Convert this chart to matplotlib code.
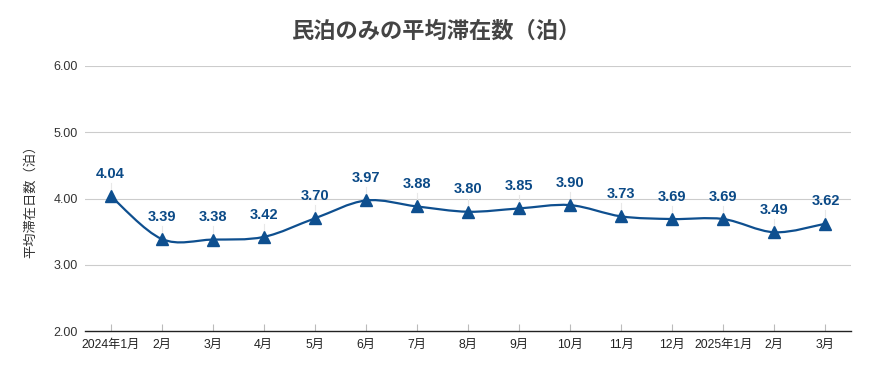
import matplotlib
matplotlib.use("Agg")
import matplotlib.pyplot as plt
from matplotlib.path import Path
from matplotlib.patches import PathPatch
import numpy as np

plt.rcParams['font.family'] = ['Liberation Sans', 'Noto Sans CJK JP', 'DejaVu Sans']

months = ["2024年1月", "2月", "3月", "4月", "5月", "6月", "7月", "8月", "9月",
          "10月", "11月", "12月", "2025年1月", "2月", "3月"]
values = [4.04, 3.39, 3.38, 3.42, 3.70, 3.97, 3.88, 3.80, 3.85, 3.90, 3.73, 3.69, 3.69, 3.49, 3.62]
yticks = [2.00, 3.00, 4.00, 5.00, 6.00]

title = "民泊のみの平均滞在数（泊）"
ylabel = "平均滞在日数（泊）"

line_color = "#0e4f8f"
label_color = "#0b4a87"

fig = plt.figure(figsize=(8.7, 3.71), dpi=100)
ax = fig.add_axes([85/870, 1 - 331/371, (851 - 85)/870, (331 - 66)/371])

x = np.arange(len(values))
y = np.array(values)

# smooth curve through points (Catmull-Rom -> cubic Bezier)
verts = [(x[0], y[0])]
codes = [Path.MOVETO]
n = len(x)
for i in range(n - 1):
    p0 = np.array([x[max(i - 1, 0)], y[max(i - 1, 0)]])
    p1 = np.array([x[i], y[i]])
    p2 = np.array([x[i + 1], y[i + 1]])
    p3 = np.array([x[min(i + 2, n - 1)], y[min(i + 2, n - 1)]])
    c1 = p1 + (p2 - p0) / 6.0
    c2 = p2 - (p3 - p1) / 6.0
    verts += [tuple(c1), tuple(c2), tuple(p2)]
    codes += [Path.CURVE4, Path.CURVE4, Path.CURVE4]
patch = PathPatch(Path(verts, codes), facecolor='none', edgecolor=line_color, lw=1.6, zorder=3)
ax.add_patch(patch)

ax.plot(x, y, linestyle='none', marker='^', markersize=8, color=line_color, zorder=4)

for xi, yi in zip(x, y):
    ax.plot([xi, xi], [yi + 0.07, yi + 0.2], color="#e8e8e8", lw=0.8, zorder=2)
    ax.annotate(f"{yi:.2f}", (xi, yi), xytext=(0, 11), textcoords='offset points',
                ha='center', va='bottom', fontsize=10.5, fontweight='bold', color=label_color, zorder=5)

ax.set_xlim(-0.5, len(values) - 0.5)
ax.set_ylim(2.0, 6.0)
ax.set_yticks(yticks)
ax.set_yticklabels([f"{t:.2f}" for t in yticks], fontsize=9, color="#333333")
ax.set_xticks(x)
ax.set_xticklabels(months, fontsize=8.8, color="#222222")
ax.tick_params(axis='y', length=0, pad=5)
ax.tick_params(axis='x', direction='in', length=5, color="#bbbbbb", pad=6)

for yt in yticks[1:]:
    ax.axhline(yt, color="#cccccc", lw=0.8, zorder=1)

for s in ['top', 'right', 'left']:
    ax.spines[s].set_visible(False)
ax.spines['bottom'].set_color("#222222")
ax.spines['bottom'].set_linewidth(1.0)

ax.set_ylabel(ylabel, fontsize=9.5, color="#333333", labelpad=12)
fig.text(437/870, 1 - 32/371, title, ha='center', va='center', fontsize=16,
         fontweight='bold', color="#444444")

fig.savefig("out.png", dpi=100)
